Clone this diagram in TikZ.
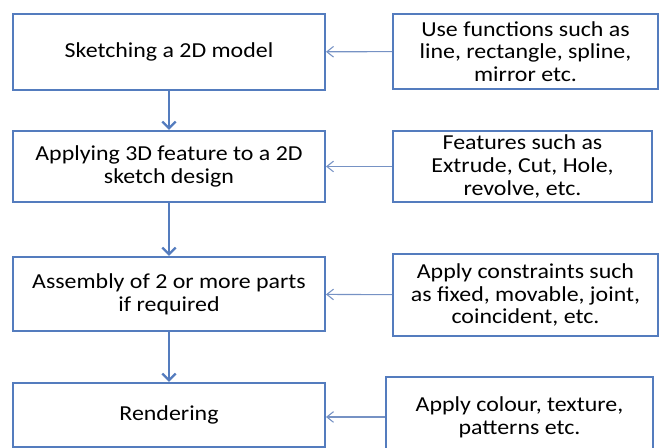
\documentclass[tikz,border=0pt]{standalone}
\usepackage{fontspec}
\setmainfont{Carlito}[FakeStretch=1.12]
\usepackage{tikz}
\usetikzlibrary{arrows.meta}

\definecolor{boxblue}{RGB}{84,124,190}
\definecolor{linkblue}{RGB}{118,146,196}

\begin{document}
\begin{tikzpicture}[x=0.75pt,y=-0.75pt,
    stepbox/.style={draw=boxblue, line width=1.5pt, fill=white, align=center,
        inner sep=0pt, font=\fontsize{16}{17}\selectfont},
    down/.style={draw=boxblue, line width=1.8pt, -{Straight Barb[length=5pt,width=10pt]}},
    side/.style={draw=linkblue, line width=0.8pt, -{Straight Barb[length=5pt,width=8pt]}}]
        \useasboundingbox (0,0) rectangle (661,448);

        % left column: steps
        \node[stepbox, minimum width=312*0.75pt, minimum height=76*0.75pt] (L1) at (169,52) {Sketching a 2D model};
        \node[stepbox, minimum width=312*0.75pt, minimum height=71*0.75pt] (L2) at (169,166.5) {Applying 3D feature to a 2D\\sketch design};
        \node[stepbox, minimum width=312*0.75pt, minimum height=74*0.75pt] (L3) at (169,294) {Assembly of 2 or more parts\\if required};
        \node[stepbox, minimum width=312*0.75pt, minimum height=64*0.75pt] (L4) at (169,415) {Rendering};

        % right column: notes
        \node[stepbox, minimum width=265*0.75pt, minimum height=75*0.75pt] (R1) at (525.5,51.5) {Use functions such as\\line, rectangle, spline,\\mirror etc.};
        \node[stepbox, minimum width=259*0.75pt, minimum height=71*0.75pt] (R2) at (522.5,166.5) {Features such as\\Extrude, Cut, Hole,\\revolve, etc.};
        \node[stepbox, minimum width=265*0.75pt, minimum height=82*0.75pt] (R3) at (525.5,295) {Apply constraints such\\as fixed, movable, joint,\\coincident, etc.};
        \node[stepbox, minimum width=267*0.75pt, minimum height=80*0.75pt] (R4) at (519.5,417) {Apply colour, texture,\\patterns etc.};

        \foreach \a/\b in {L1/L2,L2/L3,L3/L4}
            \draw[down] (\a) -- (\b);

        \foreach \n in {1,2,3}
            \draw[side] (R\n) -- (L\n);
        \draw[side] (R4.west) -- (R4.west -| L4.east);
    \end{tikzpicture}
\end{document}
